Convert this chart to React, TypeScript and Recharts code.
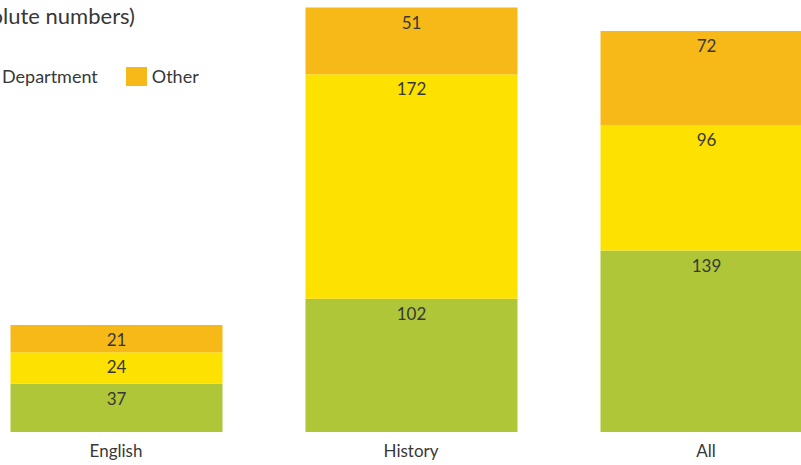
import React from 'react';
import { BarChart, Bar, XAxis, YAxis, LabelList, Legend } from 'recharts';

const categories = ['English', 'History', 'All'];
const facultyValues = [37, 102, 139];
const departmentValues = [24, 172, 96];
const otherValues = [21, 51, 72];
const seriesNames = ['Faculty', 'Department', 'Other'];
const seriesKeys = ['faculty', 'department', 'other'];
const seriesColors = ['#AEC637', '#FDE100', '#F7B918'];
const titleText = 'Number of students (absolute numbers)';

const data = categories.map((c, i) => ({
  name: c,
  faculty: facultyValues[i],
  department: departmentValues[i],
  other: otherValues[i],
}));

const textColor = '#383838';

const renderLegend = () => (
  <div style={{ position: 'relative', display: 'flex', alignItems: 'center', height: 19, whiteSpace: 'nowrap' }}>
    <div style={{ position: 'absolute', right: '100%', display: 'flex', alignItems: 'center', paddingRight: 28 }}>
      <span style={{ width: 21, height: 19, background: seriesColors[0], display: 'inline-block', marginRight: 5 }} />
      <span style={{ fontSize: 18, color: textColor }}>{seriesNames[0]}</span>
    </div>
    {[1, 2].map((i) => (
      <div key={i} style={{ display: 'flex', alignItems: 'center', marginRight: 28 }}>
        <span style={{ width: 21, height: 19, background: seriesColors[i], display: 'inline-block', marginRight: 5 }} />
        <span style={{ fontSize: 18, color: textColor, lineHeight: '19px' }}>{seriesNames[i]}</span>
      </div>
    ))}
  </div>
);

export default function App() {
  return (
    <div
      style={{
        position: 'fixed',
        left: 0,
        top: 0,
        width: 801,
        height: 465,
        overflow: 'hidden',
        background: '#fff',
        fontFamily: 'Lato, sans-serif',
      }}
    >
      <div style={{ position: 'absolute', left: -40, top: 0 }}>
        <BarChart
          width={900}
          height={465}
          data={data}
          margin={{ top: 1, right: 6.5, bottom: 0, left: 8.5 }}
        >
          <XAxis
            dataKey="name"
            axisLine={false}
            tickLine={false}
            tickMargin={7}
            height={33}
            interval={0}
            tick={{ fontSize: 17, fill: textColor }}
          />
          <YAxis hide domain={[0, 330]} />
          <Legend
            layout="horizontal"
            verticalAlign="middle"
            align="center"
            content={renderLegend}
            wrapperStyle={{ position: 'absolute', left: 16, top: 67, width: 'auto' }}
          />
          {seriesKeys.map((k, i) => (
            <Bar
              key={k}
              dataKey={k}
              name={seriesNames[i]}
              stackId="s"
              fill={seriesColors[i]}
              barSize={212}
              isAnimationActive={false}
            >
              <LabelList dataKey={k} position="insideTop" offset={9} fill={textColor} fontSize={17} />
            </Bar>
          ))}
        </BarChart>
      </div>
      <svg width={801} height={40} style={{ position: 'absolute', left: 0, top: 0 }}>
        <text x={135} y={24} textAnchor="end" fontSize={22} fill={textColor}>
          {titleText}
        </text>
      </svg>
    </div>
  );
}
